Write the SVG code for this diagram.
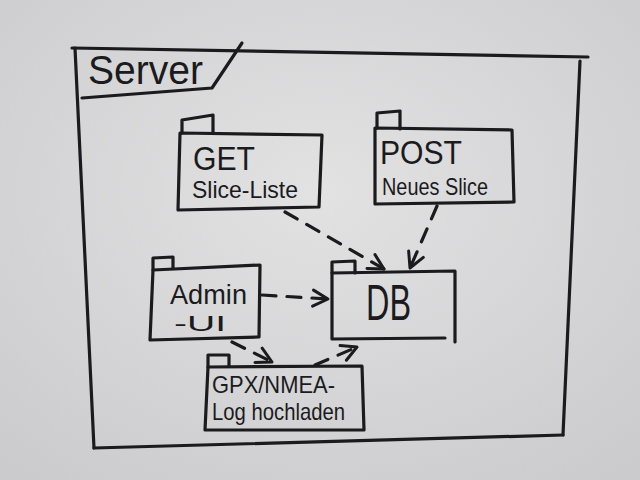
<svg xmlns="http://www.w3.org/2000/svg" width="640" height="480" viewBox="0 0 640 480">
<defs>
<radialGradient id="bg" cx="0.5" cy="0.4" r="0.75">
<stop offset="0" stop-color="#e2e2e3"/>
<stop offset="1" stop-color="#cbcbcd"/>
</radialGradient>
<marker id="arr" viewBox="0 0 20 20" markerWidth="20" markerHeight="20" refX="17" refY="10" orient="auto" markerUnits="userSpaceOnUse">
<path d="M2,2 L17,10 L2,18" fill="none" stroke="#1b1b1d" stroke-width="3" stroke-dasharray="none" stroke-linecap="round" stroke-linejoin="round"/>
</marker>
<style>
.ink{fill:none;stroke:#1b1b1d;stroke-width:3.2;stroke-linecap:round;stroke-linejoin:round}
.dash{fill:none;stroke:#1b1b1d;stroke-width:3.2;stroke-linecap:round;stroke-dasharray:14 11;marker-end:url(#arr)}
.t{font-family:"Liberation Sans","DejaVu Sans",sans-serif;fill:#1b1b1d}
</style>
</defs>
<rect x="0" y="0" width="640" height="480" fill="url(#bg)"/>
<g id="server">
<path class="ink" d="M72,48 L588,57"/>
<path class="ink" d="M580,61 L563,435"/>
<path class="ink" d="M563,435 L94,448"/>
<path class="ink" d="M75,48 L94,448"/>
<path class="ink" d="M242,43 L212,88 L82,98"/>
<text class="t" x="88" y="84" font-size="40" textLength="115" lengthAdjust="spacingAndGlyphs">Server</text>
</g>
<g id="get">
<path class="ink" d="M182,133 L182,120 L213,115 L213,133"/>
<path class="ink" d="M180,133 L322,135 L319,207 L178,210 Z"/>
<text class="t" x="193" y="170" font-size="34" textLength="62" lengthAdjust="spacingAndGlyphs">GET</text>
<text class="t" x="192" y="198" font-size="24" textLength="106" lengthAdjust="spacingAndGlyphs">Slice-Liste</text>
</g>
<g id="post">
<path class="ink" d="M377,128 L377,113 L400,111 L400,129"/>
<path class="ink" d="M375,128 L512,130 L514,202 L375,204 Z"/>
<text class="t" x="380" y="164" font-size="34" textLength="82" lengthAdjust="spacingAndGlyphs">POST</text>
<text class="t" x="382" y="195" font-size="24" textLength="106" lengthAdjust="spacingAndGlyphs">Neues Slice</text>
</g>
<g id="db">
<path class="ink" d="M332,273 L332,262 L355,261 L355,273"/>
<path class="ink" d="M332,273 L455,271 L455,342 M332,273 L332,339 L445,338"/>
<text class="t" x="366" y="320" font-size="50" textLength="45" lengthAdjust="spacingAndGlyphs">DB</text>
</g>
<g id="admin">
<path class="ink" d="M153,270 L153,258 L173,257 L173,268"/>
<path class="ink" d="M153,270 L260,265 L259,337 L150,340 Z"/>
<text class="t" x="170" y="304" font-size="28" textLength="77" lengthAdjust="spacingAndGlyphs">Admin</text>
<text class="t" x="174" y="331" font-size="22" textLength="52" lengthAdjust="spacingAndGlyphs">-UI</text>
</g>
<g id="gpx">
<path class="ink" d="M208,367 L208,355 L229,355 L229,366"/>
<path class="ink" d="M208,367 L362,366 L364,430 L205,430 Z"/>
<text class="t" x="212" y="393" font-size="24" textLength="123" lengthAdjust="spacingAndGlyphs">GPX/NMEA-</text>
<text class="t" x="212" y="420" font-size="24" textLength="133" lengthAdjust="spacingAndGlyphs">Log hochladen</text>
</g>
<g id="connectors">
<path class="dash" d="M285,212 L384,269"/>
<path class="dash" d="M437,206 L410,268"/>
<path class="dash" d="M262,295 L328,299"/>
<path class="dash" d="M232,342 L272,362"/>
<path class="dash" d="M315,365 L357,347"/>
</g>
</svg>
